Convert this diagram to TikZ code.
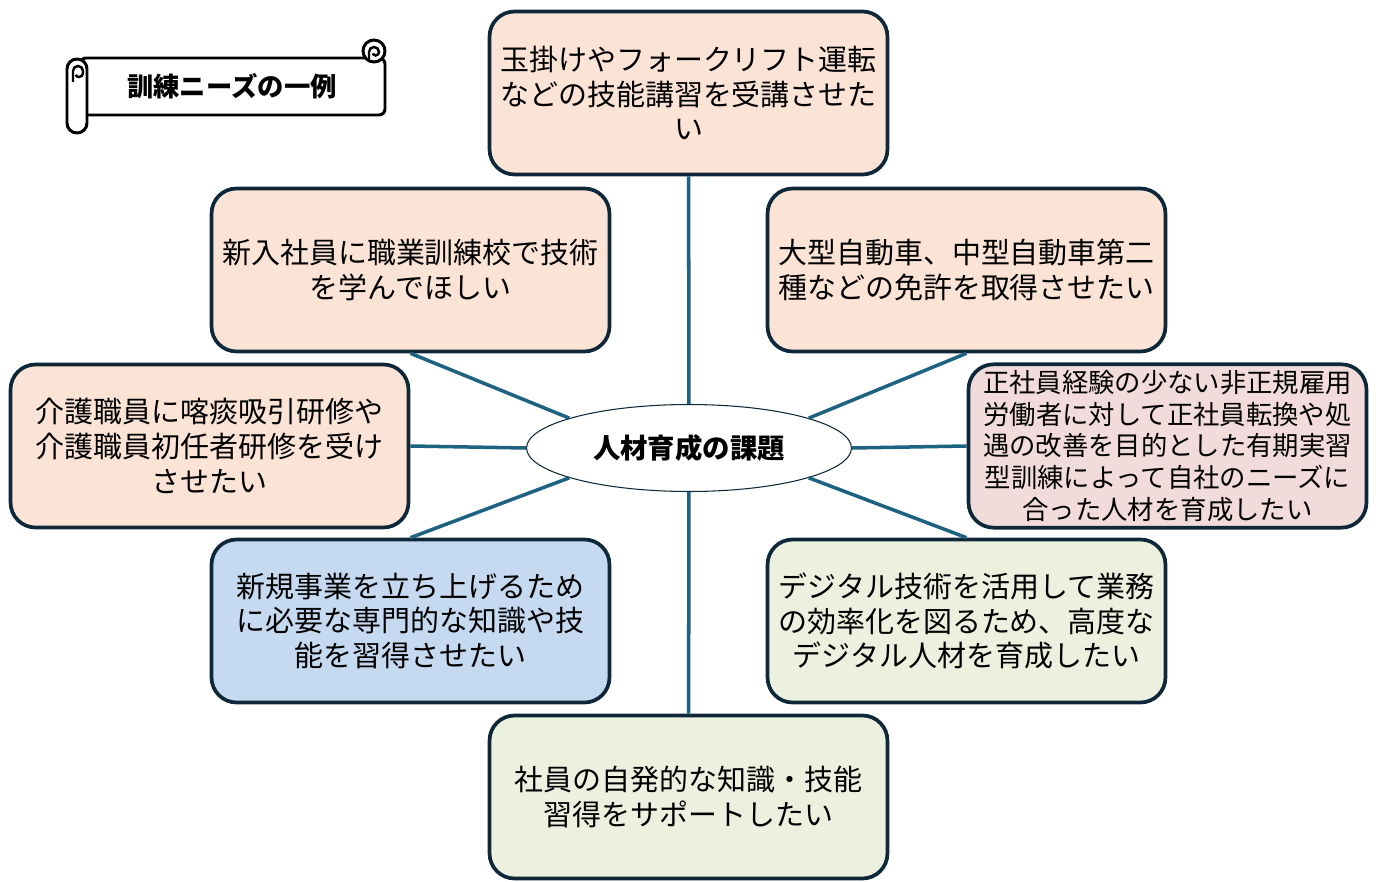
\documentclass[tikz,border=0pt]{standalone}
\usepackage{fontspec}
\setmainfont{Noto Sans CJK JP}
\usepackage{tikz}
\usetikzlibrary{shapes.geometric}
\definecolor{boxline}{RGB}{14,40,58}
\definecolor{spokeblue}{RGB}{30,98,130}
\definecolor{peach}{RGB}{251,228,214}
\definecolor{rose}{RGB}{242,220,219}
\definecolor{skyfill}{RGB}{197,217,240}
\definecolor{sage}{RGB}{235,241,222}

\begin{document}
\begin{tikzpicture}[
  x=0.02cm,y=-0.02cm,
  needbox/.style={draw=boxline,line width=2.1pt,rounded corners=0.5cm,
    minimum width=7.96cm,minimum height=3.26cm,align=center,
    font=\fontsize{16.5}{19.8}\selectfont},
  ]
  \tikzset{%
    spoke/.style={
      draw=spokeblue,
      line width=2pt,
    },
    scrollline/.style={
      draw=black,
      line width=1.7pt,
      fill=white,
    },
  }
  \useasboundingbox (0,0) rectangle (1376,882);
  %Scroll
  \draw[scrollline,rounded corners=0.12cm] (80,58) -- (385,58) -- (385,115) -- (80,115) -- cycle;
  \draw[scrollline] (374,51) circle (11);
  \draw[black,line width=1.4pt] (369,60) -- (369,52) arc (180:360:5) arc (0:150:3.5);
  \draw[scrollline,rounded corners=0.2cm] (67,59) rectangle (87,133);
  \draw[black,line width=1.4pt] (73,82) -- (73,71) arc (180:360:5) -- (83,73) arc (0:150:4);
  \node[font=\bfseries\fontsize{15}{18}\selectfont](scrolltitle) at (232,86){訓練ニーズの一例};
  %Nodes
  \node[ellipse,draw=boxline,line width=0.6pt,minimum width=6.5cm,minimum height=1.74cm,
    font=\bfseries\fontsize{15.6}{18}\selectfont](issue) at (689,448){人材育成の課題};
  \node[needbox,fill=peach](crane) at (688.5,93){玉掛けやフォークリフト運転\\などの技能講習を受講させた\\い};
  \node[needbox,fill=peach](newhire) at (410.5,270){新入社員に職業訓練校で技術\\を学んでほしい};
  \node[needbox,fill=peach](license) at (966.5,270){大型自動車、中型自動車第二\\種などの免許を取得させたい};
  \node[needbox,fill=peach](care) at (209.5,446){介護職員に喀痰吸引研修や\\介護職員初任者研修を受け\\させたい};
  \node[needbox,fill=rose,font=\fontsize{15}{18.1}\selectfont](regular) at (1167.5,446){正社員経験の少ない非正規雇用\\労働者に対して正社員転換や処\\遇の改善を目的とした有期実習\\型訓練によって自社のニーズに\\合った人材を育成したい};
  \node[needbox,fill=skyfill](business) at (410.5,621){新規事業を立ち上げるため\\に必要な専門的な知識や技\\能を習得させたい};
  \node[needbox,fill=sage](digital) at (966.5,621){デジタル技術を活用して業務\\の効率化を図るため、高度な\\デジタル人材を育成したい};
  \node[needbox,fill=sage](self) at (688.5,797){社員の自発的な知識・技能\\習得をサポートしたい};
  %Lines
  \path[spoke]
    (crane) edge (issue)
    (self) edge (issue)
    (newhire.south) edge (issue.166)
    (license.south) edge (issue.14)
    (business.north) edge (issue.194)
    (digital.north) edge (issue.346)
    (care.east) edge (issue.west)
    (regular.west) edge (issue.east)
    ;
\end{tikzpicture}
\end{document}
